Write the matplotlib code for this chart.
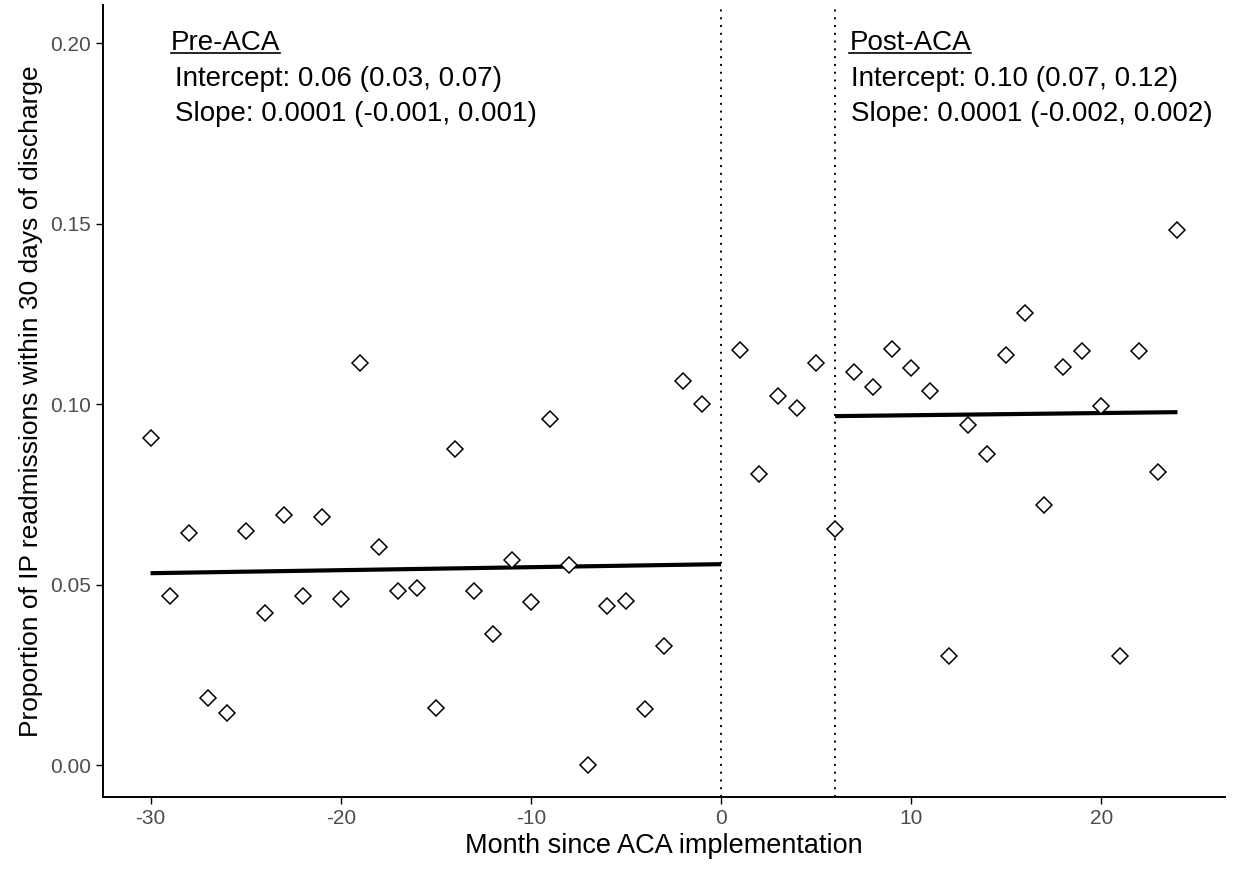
import matplotlib
matplotlib.use("Agg")
import matplotlib.pyplot as plt
from matplotlib.lines import Line2D

plt.rcParams['font.family'] = ['Liberation Sans', 'DejaVu Sans']
plt.rcParams['axes.unicode_minus'] = False

# months since ACA implementation and readmission proportions
months = [-30, -29, -28, -27, -26, -25, -24, -23, -22, -21, -20, -19, -18, -17, -16,
          -15, -14, -13, -12, -11, -10, -9, -8, -7, -6, -5, -4, -3, -2, -1,
          1, 2, 3, 4, 5, 6, 7, 8, 9, 10, 11, 12, 13, 14, 15, 16, 17, 18, 19, 20,
          21, 22, 23, 24]
prop = [0.0906, 0.0468, 0.0642, 0.0186, 0.0145, 0.0649, 0.0422, 0.0692, 0.0468, 0.0687,
        0.0460, 0.1113, 0.0604, 0.0482, 0.0491, 0.0159, 0.0875, 0.0483, 0.0364, 0.0569,
        0.0453, 0.0960, 0.0555, 0.0000, 0.0440, 0.0456, 0.0157, 0.0329, 0.1065, 0.1001,
        0.1149, 0.0808, 0.1024, 0.0990, 0.1114, 0.0654, 0.1088, 0.1048, 0.1154, 0.1100,
        0.1036, 0.0304, 0.0942, 0.0861, 0.1137, 0.1252, 0.0721, 0.1103, 0.1146, 0.0994,
        0.0304, 0.1146, 0.0812, 0.1483]

# fitted segments (start/end)
pre_x = [-30, 0]
pre_y = [0.0532, 0.0557]
post_x = [6, 24]
post_y = [0.0967, 0.0978]

cutoffs = [0, 6]

pre_lines = ["Intercept: 0.06 (0.03, 0.07)", "Slope: 0.0001 (-0.001, 0.001)"]
post_lines = ["Intercept: 0.10 (0.07, 0.12)", "Slope: 0.0001 (-0.002, 0.002)"]

fig = plt.figure(figsize=(12.38, 8.73), dpi=100)
ax = fig.add_axes([0.0832, 0.087, 0.9063, 0.907])

for c in cutoffs:
    ax.axvline(c, color='black', linestyle=(0, (1, 3)), linewidth=1.4, zorder=1)

ax.plot(months, prop, linestyle='none', marker='D', markersize=8,
        markerfacecolor='white', markeredgecolor='black', markeredgewidth=1.1, zorder=3)
ax.plot(pre_x, pre_y, color='black', linewidth=3, solid_capstyle='butt', zorder=2)
ax.plot(post_x, post_y, color='black', linewidth=3, solid_capstyle='butt', zorder=2)

ax.set_xlim(-32.5, 26.5)
ax.set_ylim(-0.0088, 0.2105)
ax.set_xticks([-30, -20, -10, 0, 10, 20])
ax.set_yticks([0.00, 0.05, 0.10, 0.15, 0.20])
ax.set_yticklabels(["0.00", "0.05", "0.10", "0.15", "0.20"])
ax.tick_params(axis='both', labelsize=15, colors='#4d4d4d', length=5, width=1)
ax.tick_params(axis='both', color='black')
for s in ['top', 'right']:
    ax.spines[s].set_visible(False)
for s in ['left', 'bottom']:
    ax.spines[s].set_linewidth(1.4)

ax.set_xlabel("Month since ACA implementation", fontsize=19.5, labelpad=4)
ax.set_ylabel("Proportion of IP readmissions within 30 days of discharge", fontsize=19, labelpad=5)

# header + stats text
fs = 20
hdr_pre = ax.text(-28.95, 0.2, "Pre-ACA", fontsize=fs, ha='left', va='center')
ax.text(-28.7, 0.19, pre_lines[0], fontsize=fs, ha='left', va='center')
ax.text(-28.7, 0.1803, pre_lines[1], fontsize=fs, ha='left', va='center')
hdr_post = ax.text(6.75, 0.2, "Post-ACA", fontsize=fs, ha='left', va='center')
ax.text(6.85, 0.19, post_lines[0], fontsize=fs, ha='left', va='center')
ax.text(6.85, 0.1803, post_lines[1], fontsize=fs, ha='left', va='center')

# underline the headers
fig.canvas.draw()
r = fig.canvas.get_renderer()
inv = fig.transFigure.inverted()
for t in [hdr_pre, hdr_post]:
    bb = t.get_window_extent(r)
    (x0, y0) = inv.transform((bb.x0, bb.y0 + 3))
    (x1, _) = inv.transform((bb.x1, bb.y0 + 3))
    fig.add_artist(Line2D([x0, x1], [y0, y0], color='black', linewidth=1.2,
                          transform=fig.transFigure))

fig.savefig("out.png", dpi=100)
